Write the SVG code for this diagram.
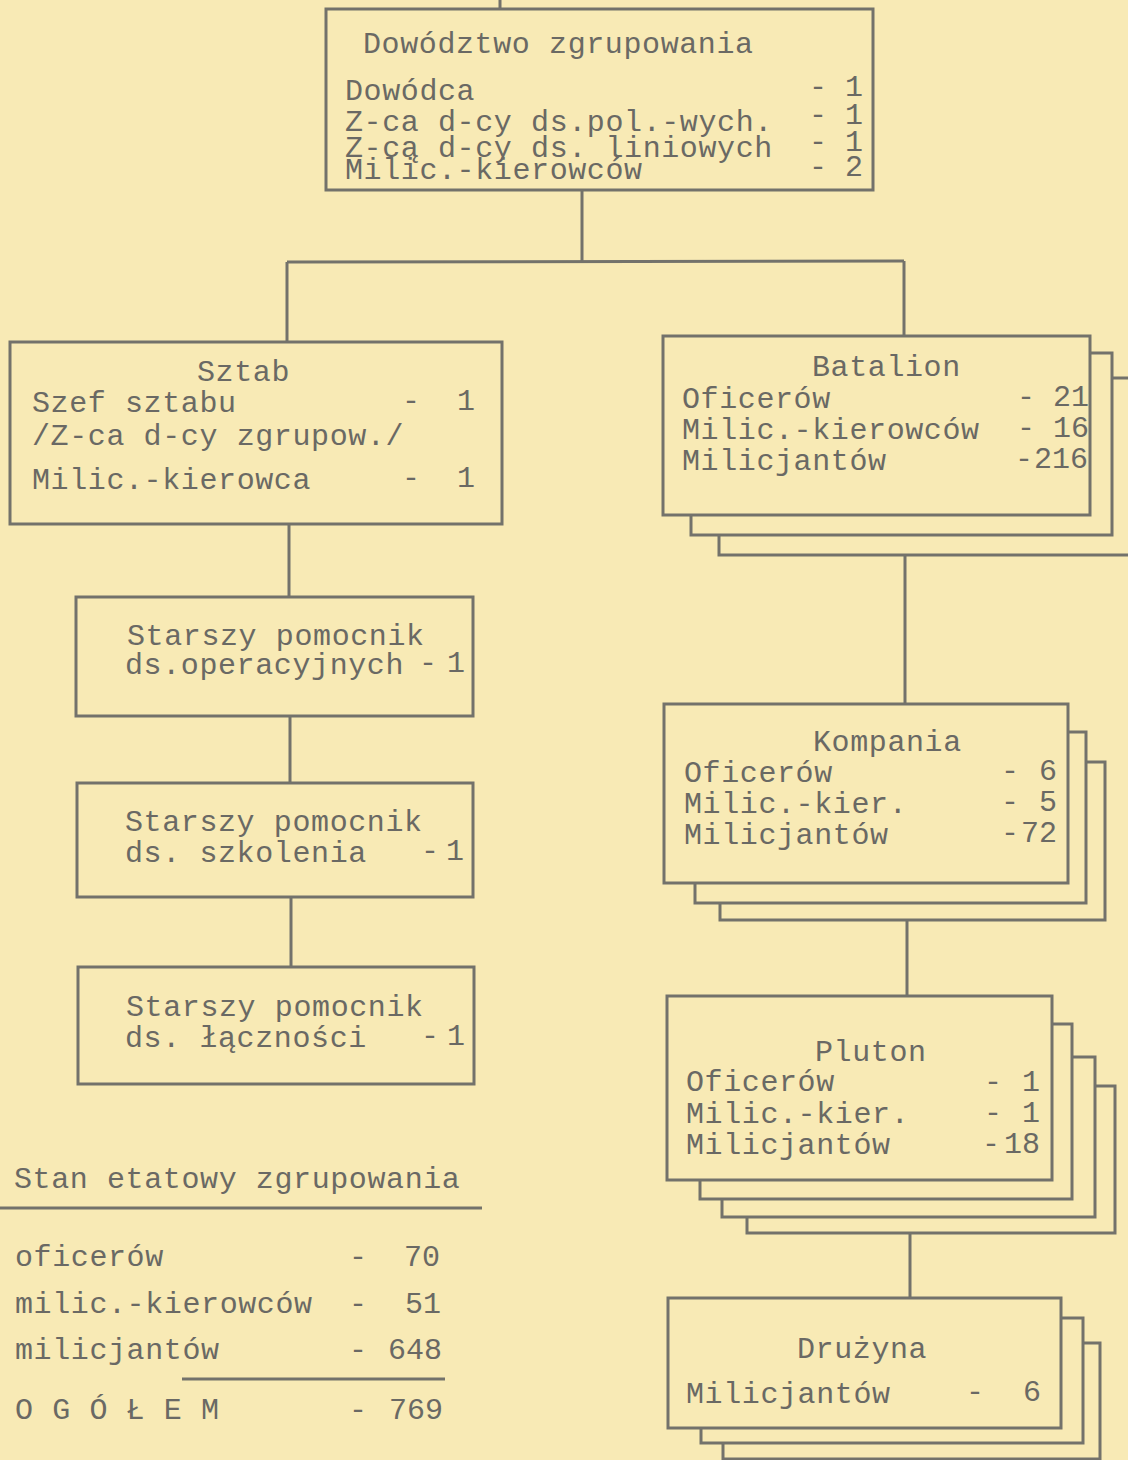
<svg xmlns="http://www.w3.org/2000/svg" width="1128" height="1460" viewBox="0 0 1128 1460">
<style>
  .bg { fill: #F8EAB5; }
  .box { fill: #F8EAB5; stroke: #73726B; stroke-width: 3; }
  .ln { stroke: #73726B; stroke-width: 3; fill: none; }
  text { font-family: "Liberation Mono", "DejaVu Sans Mono", monospace; font-size: 30px; fill: #6A6964; }
  .t { letter-spacing: 0.6px; }
  .n { text-anchor: middle; letter-spacing: 0; }
</style>
<rect class="bg" x="0" y="0" width="1128" height="1460"/>

<g id="connectors">
  <line class="ln" x1="500" y1="0" x2="500" y2="9"/>
  <line class="ln" x1="582" y1="190" x2="582" y2="262"/>
  <line class="ln" x1="287" y1="262" x2="904" y2="261"/>
  <line class="ln" x1="287" y1="262" x2="287" y2="343"/>
  <line class="ln" x1="904" y1="261" x2="904" y2="337"/>
  <line class="ln" x1="289" y1="524" x2="289" y2="597"/>
  <line class="ln" x1="290" y1="716" x2="290" y2="783"/>
  <line class="ln" x1="291" y1="897" x2="291" y2="967"/>
  <line class="ln" x1="905" y1="556" x2="905" y2="704"/>
  <line class="ln" x1="907" y1="920" x2="907" y2="996"/>
  <line class="ln" x1="910" y1="1233" x2="910" y2="1298"/>
</g>

<g id="dowodztwo">
  <rect class="box" x="326" y="9" width="547" height="181"/>
  <text class="t" x="363" y="53">Dowództwo zgrupowania</text>
  <text class="t" x="345" y="100">Dowódca</text>
  <text class="n" x="818" y="96">-</text><text class="n" x="854" y="96">1</text>
  <text class="t" x="345" y="131">Z-ca d-cy ds.pol.-wych.</text>
  <text class="n" x="818" y="124">-</text><text class="n" x="854" y="124">1</text>
  <text class="t" x="345" y="157">Z-cą d-cy ds. liniowych</text>
  <text class="n" x="818" y="151">-</text><text class="n" x="854" y="151">1</text>
  <text class="t" x="345" y="179">Milic.-kierowców</text>
  <text class="n" x="818" y="176">-</text><text class="n" x="854" y="176">2</text>
</g>

<g id="sztab">
  <rect class="box" x="10" y="342" width="492" height="182"/>
  <text class="t" x="197" y="381">Sztab</text>
  <text class="t" x="32" y="412">Szef sztabu</text>
  <text class="n" x="411" y="410">-</text><text class="n" x="466" y="410">1</text>
  <text class="t" x="32" y="445">/Z-ca d-cy zgrupow./</text>
  <text class="t" x="32" y="489">Milic.-kierowca</text>
  <text class="n" x="411" y="487">-</text><text class="n" x="466" y="487">1</text>
</g>

<g id="pomocnik-operacyjny">
  <rect class="box" x="76" y="597" width="397" height="119"/>
  <text class="t" x="127" y="645">Starszy pomocnik</text>
  <text class="t" x="125" y="674">ds.operacyjnych</text>
  <text class="n" x="428" y="672">-</text><text class="n" x="456" y="672">1</text>
</g>

<g id="pomocnik-szkolenie">
  <rect class="box" x="77" y="783" width="396" height="114"/>
  <text class="t" x="125" y="831">Starszy pomocnik</text>
  <text class="t" x="125" y="862">ds. szkolenia</text>
  <text class="n" x="430" y="860">-</text><text class="n" x="455" y="860">1</text>
</g>

<g id="pomocnik-lacznosc">
  <rect class="box" x="78" y="967" width="396" height="117"/>
  <text class="t" x="126" y="1016">Starszy pomocnik</text>
  <text class="t" x="125" y="1047">ds. łączności</text>
  <text class="n" x="430" y="1045">-</text><text class="n" x="456" y="1045">1</text>
</g>

<g id="batalion">
  <rect class="box" x="719" y="378" width="420" height="177"/>
  <rect class="box" x="691" y="353" width="421" height="182"/>
  <rect class="box" x="663" y="336" width="427" height="179"/>
  <text class="t" x="812" y="376">Batalion</text>
  <text class="t" x="682" y="408">Oficerów</text>
  <text class="n" x="1026" y="406">-</text><text class="n" x="1071" y="406">21</text>
  <text class="t" x="682" y="439">Milic.-kierowców</text>
  <text class="n" x="1026" y="437">-</text><text class="n" x="1071" y="437">16</text>
  <text class="t" x="682" y="470">Milicjantów</text>
  <text class="n" x="1024" y="468">-</text><text class="n" x="1061" y="468">216</text>
</g>

<g id="kompania">
  <rect class="box" x="720" y="762" width="385" height="158"/>
  <rect class="box" x="695" y="732" width="391" height="171"/>
  <rect class="box" x="664" y="704" width="404" height="179"/>
  <text class="t" x="813" y="751">Kompania</text>
  <text class="t" x="684" y="782">Oficerów</text>
  <text class="n" x="1010" y="780">-</text><text class="n" x="1048" y="780">6</text>
  <text class="t" x="684" y="813">Milic.-kier.</text>
  <text class="n" x="1010" y="811">-</text><text class="n" x="1048" y="811">5</text>
  <text class="t" x="684" y="844">Milicjantów</text>
  <text class="n" x="1010" y="842">-</text><text class="n" x="1039" y="842">72</text>
</g>

<g id="pluton">
  <rect class="box" x="747" y="1086" width="368" height="147"/>
  <rect class="box" x="722" y="1057" width="373" height="160"/>
  <rect class="box" x="700" y="1024" width="372" height="175"/>
  <rect class="box" x="667" y="996" width="385" height="184"/>
  <text class="t" x="815" y="1061">Pluton</text>
  <text class="t" x="686" y="1091">Oficerów</text>
  <text class="n" x="993" y="1091">-</text><text class="n" x="1031" y="1091">1</text>
  <text class="t" x="686" y="1123">Milic.-kier.</text>
  <text class="n" x="993" y="1122">-</text><text class="n" x="1031" y="1122">1</text>
  <text class="t" x="686" y="1154">Milicjantów</text>
  <text class="n" x="991" y="1153">-</text><text class="n" x="1022" y="1153">18</text>
</g>

<g id="druzyna">
  <rect class="box" x="723" y="1343" width="377" height="116"/>
  <rect class="box" x="701" y="1318" width="382" height="125"/>
  <rect class="box" x="668" y="1298" width="393" height="130"/>
  <text class="t" x="797" y="1358">Drużyna</text>
  <text class="t" x="686" y="1403">Milicjantów</text>
  <text class="n" x="975" y="1401">-</text><text class="n" x="1032" y="1401">6</text>
</g>

<g id="stan-etatowy">
  <text class="t" x="14" y="1188">Stan etatowy zgrupowania</text>
  <line class="ln" x1="0" y1="1208" x2="482" y2="1208"/>
  <text class="t" x="15" y="1266">oficerów</text>
  <text class="n" x="358" y="1266">-</text><text class="n" x="422" y="1266">70</text>
  <text class="t" x="15" y="1313">milic.-kierowców</text>
  <text class="n" x="358" y="1313">-</text><text class="n" x="423" y="1313">51</text>
  <text class="t" x="15" y="1359">milicjantów</text>
  <text class="n" x="358" y="1359">-</text><text class="n" x="415" y="1359">648</text>
  <line class="ln" x1="182" y1="1379" x2="445" y2="1379"/>
  <text class="t" x="15" y="1419">O G Ó Ł E M</text>
  <text class="n" x="358" y="1419">-</text><text class="n" x="416" y="1419">769</text>
</g>
</svg>
